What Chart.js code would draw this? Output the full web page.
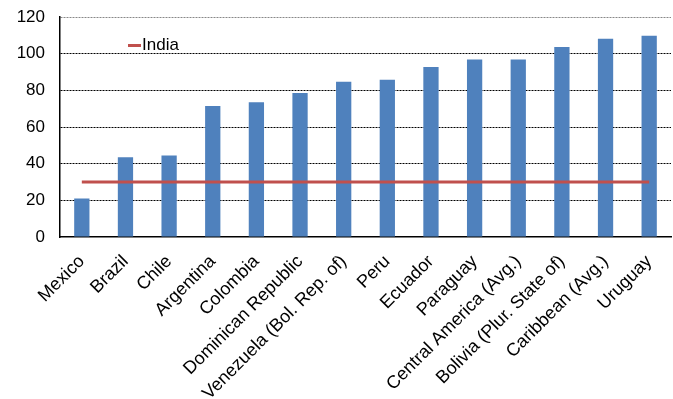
<!DOCTYPE html>
<html>
<head>
<meta charset="utf-8">
<script src="https://cdn.jsdelivr.net/npm/chart.js@4.4.0/dist/chart.umd.min.js"></script>
<style>
  html, body { margin: 0; padding: 0; background: #fff; }
  #wrap { width: 673px; height: 399px; }
</style>
</head>
<body>
<div id="wrap"><canvas id="myChart" width="673" height="399"></canvas></div>
<script>
const categories = ['Mexico', 'Brazil', 'Chile', 'Argentina', 'Colombia', 'Dominican Republic',
    'Venezuela (Bol. Rep. of)', 'Peru', 'Ecuador', 'Paraguay', 'Central America (Avg.)',
    'Bolivia (Plur. State of)', 'Caribbean (Avg.)', 'Uruguay'];
const countryValues = [21, 43.5, 44.5, 71.5, 73.5, 78.5, 84.7, 85.8, 92.7, 96.8, 96.8, 103.7, 108.2, 109.8];
const indiaValues = [30, 30, 30, 30, 30, 30, 30, 30, 30, 30, 30, 30, 30, 30];
const yTicks = [0, 20, 40, 60, 80, 100, 120];

const ctx = document.getElementById('myChart');

// legend sits inside the plot, top left
const insideLegend = {
    id: 'insideLegend',
    afterDraw(chart) {
        const c = chart.ctx;
        const ds = chart.data.datasets[0];
        c.save();
        c.strokeStyle = ds.borderColor;
        c.lineWidth = 3;
        c.beginPath();
        c.moveTo(128, 45.5);
        c.lineTo(141, 45.5);
        c.stroke();
        c.fillStyle = '#000';
        c.font = '17px "Liberation Sans", Arial, sans-serif';
        c.textBaseline = 'middle';
        c.fillText(ds.label, 142, 45);
        c.restore();
    }
};

new Chart(ctx, {
    data: {
        labels: categories,
        datasets: [{
            type: 'line',
            label: 'India',
            data: indiaValues,
            borderColor: '#C0504D',
            borderWidth: 3,
            pointRadius: 0,
            order: 0
        }, {
            type: 'bar',
            label: 'Countries',
            data: countryValues,
            backgroundColor: '#4F81BD',
            borderWidth: 0,
            barPercentage: 0.35,
            categoryPercentage: 1,
            order: 1
        }]
    },
    options: {
        responsive: false,
        animation: false,
        layout: { padding: { top: 17, right: 2, left: 0, bottom: 0 } },
        plugins: {
            legend: { display: false },
            tooltip: { enabled: false }
        },
        scales: {
            x: {
                grid: { display: false, drawTicks: false },
                border: { display: true, color: '#000', width: 1.5 },
                ticks: {
                    autoSkip: false,
                    maxRotation: 45,
                    minRotation: 45,
                    padding: 14,
                    color: '#000',
                    font: { family: '"Liberation Sans", Arial, sans-serif', size: 18 }
                },
                afterFit(scale) {
                    scale.height = 162;
                    scale.paddingLeft = 0;
                    scale.paddingRight = 0;
                }
            },
            y: {
                min: 0,
                max: 120,
                afterBuildTicks(scale) {
                    scale.ticks = yTicks.map(v => ({ value: v }));
                },
                grid: {
                    drawTicks: false,
                    color: c => {
                        if (!c.tick || c.tick.value === 0) return 'rgba(0,0,0,0)';
                        return c.tick.value === 120 ? '#888' : '#000';
                    },
                    lineWidth: 1
                },
                border: { display: true, color: '#000', width: 1.5, dash: [2, 1] },
                ticks: {
                    padding: 15,
                    color: '#000',
                    font: { family: '"Liberation Sans", Arial, sans-serif', size: 17 }
                },
                afterFit(scale) {
                    scale.width = 60;
                    scale.paddingTop = 0;
                }
            }
        }
    },
    plugins: [insideLegend]
});
</script>
</body>
</html>
